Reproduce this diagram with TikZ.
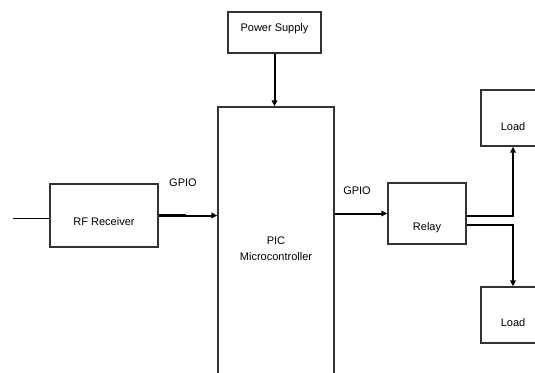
\documentclass[tikz,border=0pt]{standalone}
\usepackage{fontspec}
\setmainfont{Liberation Sans}
\usetikzlibrary{arrows.meta,calc}

\begin{document}
\begin{tikzpicture}[x=1pt, y=-1pt, >={Triangle[length=6pt,width=5.5pt]},
      font=\fontsize{11}{16}\selectfont,
      box/.style={draw=black!80, line width=1.3pt, fill=white, align=center,
      inner sep=0pt},
      arrow/.style={->, line width=2pt},
      wire/.style={line width=1pt},
      thickwire/.style={line width=2.8pt},
      tag/.style={inner sep=1pt} ]

    \clip (0,0) rectangle (535,372);

    % Blocks
    \node[box, minimum width=93pt, minimum height=41pt, text depth=9pt] (psu)
    at (274.5,32.5) {Power Supply};
    \node[box, minimum width=116pt, minimum height=283pt] (pic) at (276,248.5)
    {PIC\\Microcontroller};
    \node[box, minimum width=108pt, minimum height=63pt, text height=21pt] (rf)
    at (104,215.5) {RF Receiver};
    \node[box, minimum width=78pt, minimum height=61pt, text height=36pt]
    (relay) at (427,213.5) {Relay};
    \node[box, minimum width=64pt, minimum height=56pt, text height=26pt]
    (loadA) at (513,118) {Load};
    \node[box, minimum width=64pt, minimum height=56pt, text height=24pt]
    (loadB) at (513,315) {Load};

    % Input line
    \coordinate (rfin) at (13,218);
    \draw[wire] (rfin) -- (rfin -| rf.west);

    % GPIO links
    \draw[arrow] (rf.east) -- (rf.east -| pic.west);
    \draw[thickwire] (rf.east) -- ++(27,0);
    \node[tag] (gpioA) at (183,183) {GPIO};
    \draw[arrow] (pic.east |- relay.west) -- (relay.west);
    \node[tag] (gpioB) at (357,191) {GPIO};

    % Supply
    \draw[arrow] (psu.south) -- (pic.north -| psu.south);

    % Relay outputs
    \draw[thickwire, ->] ($(relay.east)+(0,2.5)$) -| (loadA.south);
    \draw[thickwire, ->] ($(relay.east)+(0,11.5)$) -| (loadB.north);

  \end{tikzpicture}
\end{document}
